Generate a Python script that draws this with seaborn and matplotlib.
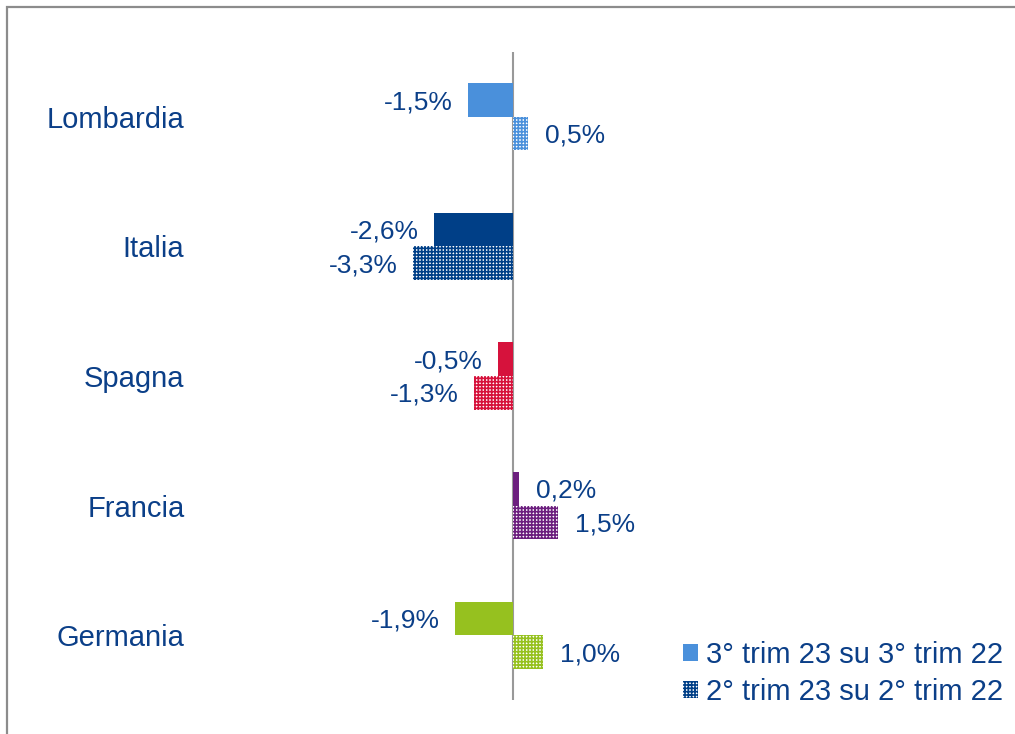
import matplotlib
matplotlib.use("Agg")
import matplotlib.pyplot as plt
import seaborn as sns
import pandas as pd
from matplotlib.patches import Patch, Rectangle

categories = ["Lombardia", "Italia", "Spagna", "Francia", "Germania"]
series_names = ["3° trim 23 su 3° trim 22", "2° trim 23 su 2° trim 22"]
q3_values = [-1.5, -2.6, -0.5, 0.2, -1.9]
q2_values = [0.5, -3.3, -1.3, 1.5, 1.0]
cat_colors = ["#4A90DB", "#003F87", "#D6123C", "#6C1F7E", "#96C11F"]
text_color = "#0B3F88"

rows = []
for c, v in zip(categories, q3_values):
    rows.append({"cat": c, "serie": series_names[0], "val": v})
for c, v in zip(categories, q2_values):
    rows.append({"cat": c, "serie": series_names[1], "val": v})
df = pd.DataFrame(rows)

sns.set_theme(style="white")
plt.rcParams["font.family"] = ["Liberation Sans", "DejaVu Sans"]
plt.rcParams["hatch.linewidth"] = 1.2

fig = plt.figure(figsize=(10.15, 7.34), dpi=100)
ax = fig.add_axes([190 / 1015, 1 - 700 / 734, (1010 - 190) / 1015, (700 - 52) / 734])

sns.barplot(data=df, y="cat", x="val", hue="serie", orient="h", order=categories,
            hue_order=series_names, width=0.52, ax=ax, legend=False, errorbar=None)

HATCH = "+++++"
for si, cont in enumerate(ax.containers):
    for bi, patch in enumerate(cont.patches):
        col = cat_colors[bi]
        if si == 0:
            patch.set_facecolor(col)
            patch.set_edgecolor(col)
            patch.set_linewidth(0)
        else:
            patch.set_facecolor("white")
            patch.set_edgecolor(col)
            patch.set_hatch(HATCH)
            patch.set_linewidth(0)
        vals = q3_values if si == 0 else q2_values
        v = vals[bi]
        label = f"{v:.1f}%".replace(".", ",")
        y = patch.get_y() + patch.get_height() / 2
        if v < 0:
            ax.annotate(label, (v, y), xytext=(-11, -1.5), textcoords="offset points",
                        ha="right", va="center", fontsize=19, color=text_color)
        else:
            ax.annotate(label, (v, y), xytext=(12, -1.5), textcoords="offset points",
                        ha="left", va="center", fontsize=19, color=text_color)

ax.set_xlim((190 - 513) / 30.3, (1010 - 513) / 30.3)
ax.set_ylim(4.5, -0.5)
ax.axvline(0, color="#999999", lw=1.5, zorder=0.5)
for s in ax.spines.values():
    s.set_visible(False)
ax.set_xticks([])
ax.set_xlabel("")
ax.set_ylabel("")
ax.tick_params(axis="y", length=0, pad=4, labelsize=21, labelcolor=text_color)
ax.set_facecolor("none")

handles = [Patch(facecolor=cat_colors[0], edgecolor=cat_colors[0], lw=0),
           Patch(facecolor="white", edgecolor=cat_colors[1], hatch=HATCH, lw=0)]
leg = fig.legend(handles, series_names, loc="upper left",
                 bbox_to_anchor=(683 / 1015, 1 - 641 / 734), frameon=False,
                 fontsize=21, handlelength=0.5, handleheight=0.5, handletextpad=0.3,
                 labelspacing=0.3, borderpad=0, borderaxespad=0)
for t in leg.get_texts():
    t.set_color(text_color)

fig.patches.append(Rectangle((7 / 1015, -0.1), 1.2, 1 - 7 / 734 + 0.1,
                             transform=fig.transFigure, fill=False,
                             edgecolor="#8C8C8C", lw=1.6, zorder=-1))

fig.savefig("out.png", dpi=100)
